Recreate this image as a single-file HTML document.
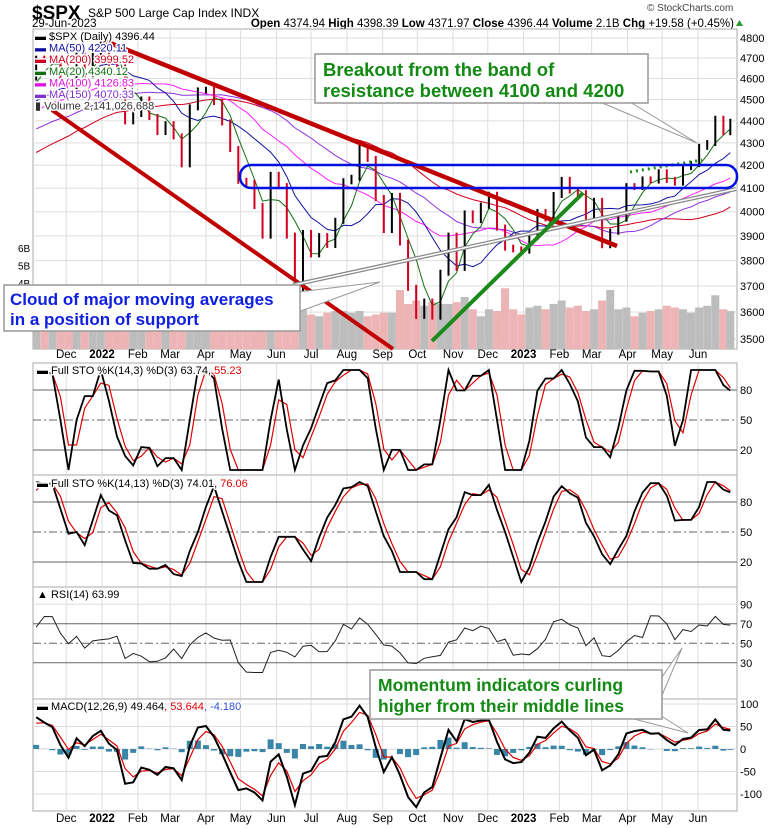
<!DOCTYPE html>
<html><head><meta charset="utf-8">
<style>
html,body{margin:0;padding:0;background:#fff;}
svg{display:block;font-family:"Liberation Sans",Arial,sans-serif;}
.halo{paint-order:stroke;stroke:#fff;stroke-width:3px;stroke-linejoin:round;}
</style></head>
<body>
<svg id="chart" width="780" height="828" viewBox="0 0 780 828" xmlns="http://www.w3.org/2000/svg">
<g>
<text x="32" y="19" font-size="19" font-weight="bold">$SPX</text>
<text x="88" y="17" font-size="12">S&amp;P 500 Large Cap Index  INDX</text>
<text x="32" y="27" font-size="11.5">29-Jun-2023</text>
<text x="647" y="11" font-size="10" fill="#444">© StockCharts.com</text>
<text x="734" y="27" font-size="11.5" text-anchor="end"><tspan font-weight="bold">Open</tspan> 4374.94 <tspan font-weight="bold">High</tspan> 4398.39 <tspan font-weight="bold">Low</tspan> 4371.97 <tspan font-weight="bold">Close</tspan> 4396.44 <tspan font-weight="bold">Volume</tspan> 2.1B <tspan font-weight="bold">Chg</tspan> +19.58 (+0.45%)</text>
<path d="M736 26 L743 26 L739.5 20 Z" fill="#2a9a2a"/>
</g>
<g id="grid"></g>
<g id="marks"></g>
<g id="annot">
<line x1="100" y1="39" x2="617" y2="246" stroke="#c00000" stroke-width="4.5"/>
<line x1="52" y1="110" x2="393" y2="349" stroke="#c00000" stroke-width="4"/>
<line x1="293" y1="285" x2="736" y2="189" stroke="#888" stroke-width="4"/>
<line x1="293" y1="285" x2="736" y2="189" stroke="#fff" stroke-width="1.5"/>
<line x1="432" y1="341" x2="583" y2="193" stroke="#1a8a1a" stroke-width="4"/>
<line x1="630" y1="172" x2="702" y2="160" stroke="#1a8a1a" stroke-width="3" stroke-dasharray="2,4"/>
<rect x="240" y="165" width="497" height="23" rx="11" fill="none" stroke="#0010e0" stroke-width="2.5"/>
<path d="M600 102 L697 143 L630 102 Z" fill="#fff" stroke="#999"/>
<rect x="315" y="54" width="333" height="49" fill="#fff" stroke="#999" stroke-width="1.5"/>
<text x="323" y="76" font-size="18.5" font-weight="bold" fill="#138a13">Breakout from the band of</text>
<text x="323" y="97" font-size="18.5" font-weight="bold" fill="#138a13">resistance between 4100 and 4200</text>
<path d="M298 292 L380 282 L298 312 Z" fill="#fff" stroke="#999"/>
<rect x="4" y="285" width="296" height="46" fill="#fff" stroke="#999" stroke-width="1.5"/>
<text x="10" y="305" font-size="17" font-weight="bold" fill="#1020e0">Cloud of major moving averages</text>
<text x="10" y="325" font-size="17" font-weight="bold" fill="#1020e0">in a position of support</text>
<path d="M630 718 L688 733 L655 712 Z" fill="#fff" stroke="#999"/>
<path d="M660 680 L682 648 L660 700 Z" fill="#fff" stroke="#999"/>
<rect x="370" y="670" width="292" height="49" fill="#fff" stroke="#999" stroke-width="1.5"/>
<text x="378" y="691" font-size="17.5" font-weight="bold" fill="#138a13">Momentum indicators curling</text>
<text x="378" y="712" font-size="17.5" font-weight="bold" fill="#138a13">higher from their middle lines</text>
</g>
<g id="legends"></g>
</svg>
<script>
// ---- data (weekly) ----
const preCloses = [3887,3934,3907,3811,3842,3943,3913,3975,4020,4129,4185,4180,4181,4233,4174,4156,4204,4230,4247,4166,4281,4352,4370,4327,4412,4395,4437,4468,4442,4509,4535,4459,4433,4455,4357,4391,4471,4545,4605];
const closes = [4697,4682,4698,4595,4538,4712,4621,4726,4766,4677,4662,4398,4432,4500,4418,4349,4385,4329,4204,4463,4543,4546,4488,4393,4272,4132,4123,4024,3901,4158,4109,3901,3675,3912,3825,3899,3863,3962,4130,4145,4280,4228,4058,3924,4067,3873,3693,3586,3640,3583,3752,3901,3771,3993,3965,4026,4072,3934,3852,3845,3840,3895,3999,3972,4071,4136,4090,4079,3970,4046,3862,3917,3971,4109,4105,4138,4133,4169,4136,4124,4192,4205,4282,4299,4410,4348,4396];
const volumes = [2.4,2.5,2.4,2.6,3.0,2.5,2.7,2.0,1.9,2.5,2.6,3.3,3.1,2.7,2.5,2.6,2.8,2.9,2.8,3.2,2.3,2.2,2.1,2.3,2.6,2.7,3.0,3.3,3.1,2.4,2.2,2.6,3.6,2.6,2.2,2.1,2.3,2.4,2.4,2.3,2.4,2.1,2.2,2.3,2.3,3.6,2.8,3.0,2.7,2.9,2.8,2.8,2.9,3.2,2.5,2.1,2.5,2.4,3.7,2.5,2.2,2.6,2.7,2.5,2.8,3.0,2.6,2.7,2.4,2.5,3.0,3.6,2.5,2.6,2.1,2.3,2.4,2.5,2.7,2.6,2.5,2.3,2.6,2.7,3.3,2.5,2.4];
const priceTicks = [3500,3600,3700,3800,3900,4000,4100,4200,4300,4400,4500,4600,4700,4800];
const volTicks = [4,5,6];
const monthLabels = ["Dec","2022","Feb","Mar","Apr","May","Jun","Jul","Aug","Sep","Oct","Nov","Dec","2023","Feb","Mar","Apr","May","Jun"];
const monthDates = ["2021-12-01","2022-01-01","2022-02-01","2022-03-01","2022-04-01","2022-05-01","2022-06-01","2022-07-01","2022-08-01","2022-09-01","2022-10-01","2022-11-01","2022-12-01","2023-01-01","2023-02-01","2023-03-01","2023-04-01","2023-05-01","2023-06-01"];
const sto1Ticks = [20,50,80];
const sto2Ticks = [20,50,80];
const rsiTicks = [30,50,70,90];
const macdTicks = [-100,-50,0,50,100];

// ---- axes ----
const L=33, R=737;
const DAY=86400000, T0=Date.UTC(2022,0,1);
function xDate(s){const d=new Date(s+"T00:00:00Z").getTime();return 102+(d-T0)/DAY*1.155;}
const W0=Date.UTC(2021,10,5);
function xWeek(i){let t=W0+i*7*DAY; if(i===closes.length-1) t-=DAY; return 102+(t-T0)/DAY*1.155;}
function yPrice(p){return 339-953*Math.log(p/3500);}
function yVol(v){return 353-v*17.5;}
const P={main:[29,349],s1:[363,475],s2:[475,587],rsi:[587,699],macd:[699,811]};
function ySto1(v){return 470-v;}
function ySto2(v){return 582-v;}
function yRsi(v){return 692-v*0.975;}
function yMacd(v){return 749-v*0.45;}

const NS="http://www.w3.org/2000/svg";
const grid=document.getElementById('grid'), marks=document.getElementById('marks'), legs=document.getElementById('legends');
function el(tag,attrs,parent){const e=document.createElementNS(NS,tag);for(const k in attrs)e.setAttribute(k,attrs[k]);parent.appendChild(e);return e;}

const defs=el('defs',{},document.getElementById('chart'));
for(const k in P){const cp=el('clipPath',{id:'clip-'+k},defs);el('rect',{x:L,y:P[k][0],width:R-L,height:P[k][1]-P[k][0]},cp);}

for(const k in P){
  const [t,b]=P[k];
  const r=el('rect',{x:L,y:t,width:R-L,height:b-t,fill:'#fff',stroke:'#aaa'},grid);
  
  
  monthDates.forEach(d=>{const x=xDate(d);const g=el('line',{x1:x,x2:x,y1:t,y2:b,stroke:'#ddd'},grid);
    
    });
}
function hTicks(ticks,yf,panel,labelFmt,styleFn){
  ticks.forEach(v=>{const y=yf(v);
    const st=styleFn?styleFn(v):{stroke:'#ddd'};
    const ln=el('line',Object.assign({x1:L,x2:R,y1:y,y2:y},st),grid);
    
    
    const tx=el('text',{x:740,y:y+4,'font-size':11},grid);tx.textContent=labelFmt(v);
    
    
  });
}
hTicks(priceTicks,yPrice,'price',v=>v);
volTicks.forEach(v=>{const tx=el('text',{x:18,y:yVol(v)+4,'font-size':10},grid);tx.textContent=v+'B';
  
  });
const lvl=v=>(v===50?{stroke:'#666','stroke-dasharray':'8,3,2,3'}:{stroke:'#666'});
hTicks(sto1Ticks,ySto1,'sto1',v=>v,lvl);
hTicks(sto2Ticks,ySto2,'sto2',v=>v,lvl);
hTicks(rsiTicks,yRsi,'rsi',v=>v,v=>(v===50?{stroke:'#666','stroke-dasharray':'8,3,2,3'}:(v===90?{stroke:'#ddd'}:{stroke:'#666'})));
hTicks(macdTicks,yMacd,'macd',v=>v);
monthLabels.forEach((m,i)=>{const x=xDate(monthDates[i]);
  [358,822].forEach(y=>{const tx=el('text',{x:x,y:y,'font-size':11.5,'text-anchor':'middle','font-weight':/^20/.test(m)?'bold':'normal'},grid);tx.textContent=m;
  
  });});

const full=preCloses.concat(closes), off=preCloses.length;
function sma(n,i){let s=0,c=0;for(let j=Math.max(0,i-n+1);j<=i;j++){s+=full[j];c++;}return s/c;}
function poly(pts,attrs,parent,name){const p=el('polyline',Object.assign({points:pts.map(q=>q[0].toFixed(1)+','+q[1].toFixed(1)).join(' '),fill:'none'},attrs),parent);
  
  return p;}

const gm=el('g',{'clip-path':'url(#clip-main)'},marks);
volumes.forEach((v,i)=>{const up=i===0||closes[i]>=closes[i-1];const y=yVol(v);
  const b=el('rect',{x:xWeek(i)-4,y:y,width:8,height:349-y,fill:up?'#bdbdbd':'#ecb4b4'},gm);
  
  });
const mas=[[40,'#d00020'],[30,'#9030e0'],[20,'#ff20ff'],[10,'#1010a0'],[4,'#107010']];
mas.forEach(([n,c])=>{const pts=closes.map((_,i)=>[xWeek(i),yPrice(sma(n,i+off))]);poly(pts,{stroke:c,'stroke-width':1},gm,'ma-'+n+'-line');});
closes.forEach((c,i)=>{const o=full[i+off-1];const up=c>=o;const y1=yPrice(Math.max(o,c)),y2=yPrice(Math.min(o,c));
  const b=el('rect',{x:xWeek(i)-1,y:y1-3,width:2,height:y2-y1+6,fill:up?'#000':'#d00020'},gm);
  
  });

function rawK(n,i){let lo=1e9,hi=-1e9;for(let j=i-n+1;j<=i;j++){lo=Math.min(lo,full[j]);hi=Math.max(hi,full[j]);}return hi>lo?(full[i]-lo)/(hi-lo)*100:50;}
function smooth(arr,n){return arr.map((_,i)=>{let s=0,c=0;for(let j=Math.max(0,i-n+1);j<=i;j++){s+=arr[j];c++;}return s/c;});}
const raw5=full.map((_,i)=>i>=5?rawK(5,i):50);
const k1=smooth(raw5,2), d1=smooth(k1,2);
const k2=smooth(raw5,4), d2=smooth(k2,2);
function drawLines(ser,yf,panel,color,w,name){const g=el('g',{'clip-path':'url(#clip-'+panel+')'},marks);
  poly(closes.map((_,i)=>[xWeek(i),yf(ser[i+off])]),{stroke:color,'stroke-width':w},g,name);}
drawLines(d1,ySto1,'s1','#e00000',1.2,'sto1-d-line');drawLines(k1,ySto1,'s1','#000',1.8,'sto1-k-line');
drawLines(d2,ySto2,'s2','#e00000',1.2,'sto2-d-line');drawLines(k2,ySto2,'s2','#000',1.8,'sto2-k-line');

const rsi=full.map((_,i)=>{if(i<6)return 50;let g=0,l=0;for(let j=i-5;j<=i;j++){const d=full[j]-full[j-1];if(d>0)g+=d;else l-=d;}return l===0?100:100-100/(1+g/l);});
const rsiS=rsi.map(v=>50+(v-50)*0.6);
drawLines(rsiS,yRsi,'rsi','#222',1,'rsi-line');

function ema(a,al){const o=[];a.forEach((v,i)=>o.push(i?o[i-1]+al*(v-o[i-1]):v));return o;}
const e12=ema(full,0.59),e26=ema(full,0.32);
const macd=full.map((_,i)=>e12[i]-e26[i]);
const sig=ema(macd,0.6);
const gh=el('g',{'clip-path':'url(#clip-macd)'},marks);
closes.forEach((_,i)=>{const h=(macd[i+off]-sig[i+off])*0.7;const y0=yMacd(0),y=yMacd(h);
  const b=el('rect',{x:xWeek(i)-3,y:Math.min(y0,y),width:6,height:Math.abs(y-y0),fill:'#3a86a8'},gh);
  
  });
drawLines(sig,yMacd,'macd','#e00000',1.2,'macd-signal-line');
drawLines(macd,yMacd,'macd','#000',2,'macd-line');

function legend(x,y,parts,name){const t=el('text',{x:x,y:y,'font-size':11,'class':'halo'},legs);
  parts.forEach(([s,c])=>{const sp=el('tspan',{fill:c},t);sp.textContent=s;});
  
  }
const lg=[["▬ $SPX (Daily) 4396.44","#000"],["▬ MA(50) 4220.11","#1010a0"],["▬ MA(200) 3999.52","#d00020"],["▬ MA(20) 4340.12","#107010"],["▬ MA(100) 4126.83","#e010e0"],["▬ MA(150) 4070.33","#8030d0"],["▮ Volume 2,141,026,688","#333"]];
lg.forEach((p,i)=>legend(35,40+i*11.6,[[p[0],p[1]]],'legend-entry'));
legend(37,374,[["▬ Full STO %K(14,3) %D(3) 63.74, ","#000"],["55.23","#e00000"]],'sto1-legend');
legend(37,487,[["▬ Full STO %K(14,13) %D(3) 74.01, ","#000"],["76.06","#e00000"]],'sto2-legend');
legend(37,598,[["▲ RSI(14) 63.99","#000"]],'rsi-legend');
legend(37,710,[["▬ MACD(12,26,9) 49.464","#000"],[", 53.644","#e00000"],[", -4.180","#3050e0"]],'macd-legend');
</script>
</body></html>
